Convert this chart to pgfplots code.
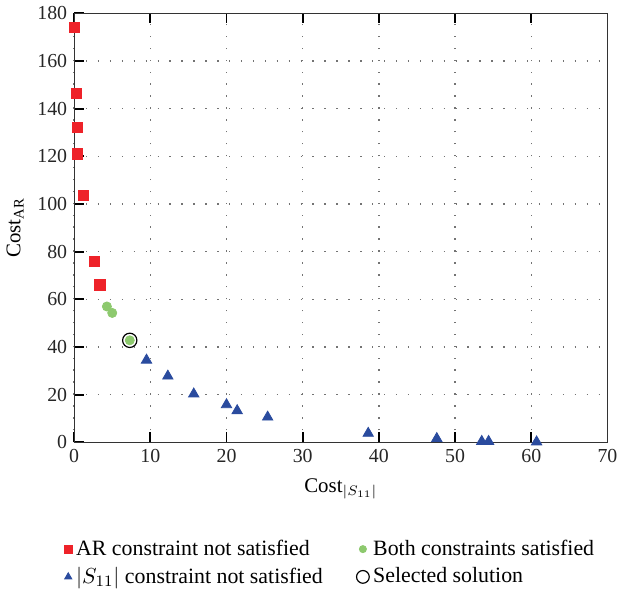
\documentclass[border=0pt]{standalone}
\usepackage{fontspec}
\setmainfont{Liberation Serif}
\usepackage{pgfplots}
\pgfplotsset{compat=1.18}
\definecolor{arred}{HTML}{EE2229}
\definecolor{sblue}{HTML}{2A4B9E}
\definecolor{okgreen}{HTML}{8DC96E}

\begin{document}
\begin{tikzpicture}
\begin{axis}[
    scale only axis,
    width=268.5pt, height=216pt,
    xmin=0, xmax=70, ymin=0, ymax=180,
    xtick={0,10,...,70}, ytick={0,20,...,180},
    axis line style={line width=0.5pt, black!80},
    tick style={line width=0.9pt, black},
    major tick length=5pt,
    xtick pos=both, ytick pos=left,
    tick align=inside,
    grid=major,
    grid style={black!55, line width=0.7pt, dash pattern=on 0.7pt off 5.3pt},
    tick label style={font=\fontsize{10}{12}\selectfont, black!85},
    /pgf/number format/assume math mode=true,
    label style={font=\fontsize{10.5}{12}\selectfont},
    xlabel={Cost$_{|S_{11}|}$},
    ylabel={Cost$_{\mathrm{AR}}$},
    xlabel style={yshift=-1pt},
    ylabel style={yshift=0pt},
    clip=false,
    legend columns=2,
    transpose legend,
    legend style={draw=none, fill=none, at={(0.482,-0.208)}, anchor=north,
        font=\fontsize{11}{13}\selectfont, row sep=0.5pt,
        /tikz/every even column/.append style={column sep=15pt}},
    legend cell align=left,
]
\addplot[only marks, mark=square*, mark size=2.6pt, color=arred,
    legend image post style={mark size=2pt}]
    coordinates {(0.0,174) (0.3,146.5) (0.4,132) (0.4,121) (1.2,103.5) (2.7,76) (3.4,66)};
\addlegendentry{AR constraint not satisfied}
\addplot[only marks, mark=triangle*, mark size=3pt, color=sblue,
    legend image post style={mark size=2.1pt}]
    coordinates {(9.5,34.5) (12.3,27.8) (15.7,20.3) (20.0,15.8) (21.4,13.3) (25.4,10.6)
                 (38.6,3.8) (47.6,1.6) (53.5,0.4) (54.4,0.4) (60.7,0.2)};
\addlegendentry{$|S_{11}|$ constraint not satisfied}
\addplot[only marks, mark=*, mark size=2.3pt, color=okgreen,
    legend image post style={mark size=1.8pt}]
    coordinates {(4.3,57) (5.0,54.3) (7.3,42.8)};
\addlegendentry{Both constraints satisfied}
\addplot[only marks, mark=o, mark size=3.6pt, mark options={line width=0.6pt}, color=black,
    legend image post style={mark size=3.2pt}]
    coordinates {(7.3,42.8)};
\addlegendentry{Selected solution}
\end{axis}
\end{tikzpicture}
\end{document}
